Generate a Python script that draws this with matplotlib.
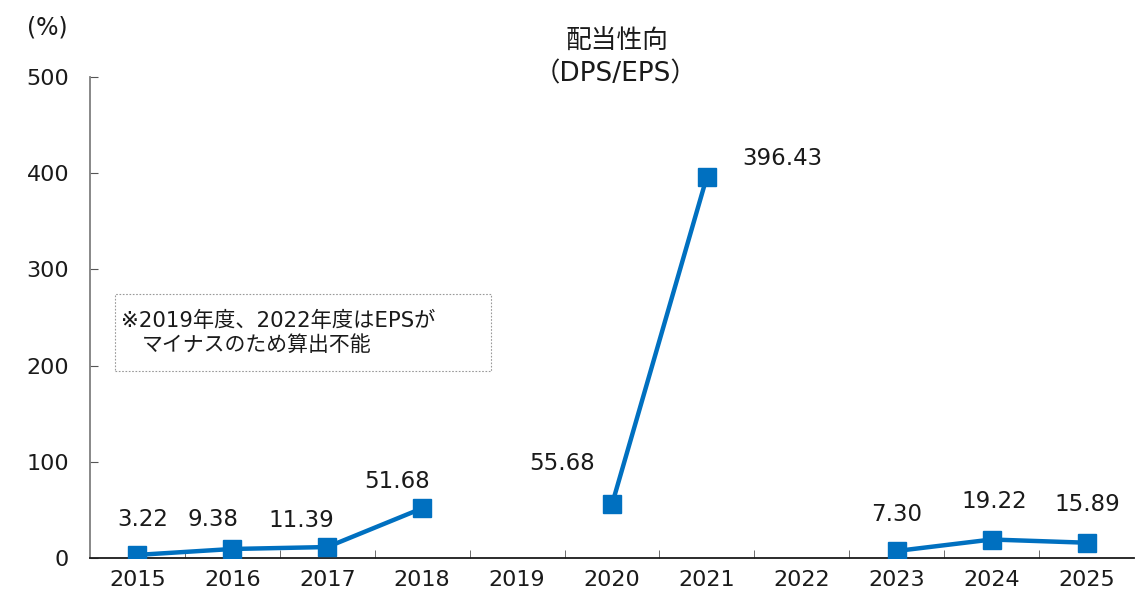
import numpy as np
import matplotlib
matplotlib.use("Agg")
import matplotlib.pyplot as plt
from matplotlib.patches import Rectangle

plt.rcParams['font.family'] = ['DejaVu Sans', 'Noto Sans CJK JP']

years = ["2015", "2016", "2017", "2018", "2019", "2020", "2021", "2022", "2023", "2024", "2025"]
payout = [3.22, 9.38, 11.39, 51.68, np.nan, 55.68, 396.43, np.nan, 7.30, 19.22, 15.89]
label_offsets = [(5, 35), (-19, 29), (-26, 27), (-25, 27), None, (-50, 41), (75, 18), None, (0, 36), (3, 38), (1, 38)]
yticks = [0, 100, 200, 300, 400, 500]
color = "#0070C0"
txt = '#1a1a1a'

fig = plt.figure(figsize=(11.35, 5.93), dpi=100)
ax = fig.add_axes([90/1135, 1 - 558/593, (1134-90)/1135, (558-77)/593])

x = np.arange(len(years))
ax.plot(x, payout, color=color, lw=3.2, marker='s', markersize=13, zorder=3)

for i, (v, off) in enumerate(zip(payout, label_offsets)):
    if np.isnan(v):
        continue
    ax.annotate(f"{v:.2f}", (i, v), xytext=off, textcoords='offset pixels',
                ha='center', va='center', fontsize=16.5, color=txt)

ax.set_xlim(-0.5, len(years) - 0.5)
ax.set_ylim(0, 500)
ax.set_yticks(yticks)
ax.set_yticklabels([str(t) for t in yticks], fontsize=16, color=txt)
ax.set_xticks(x)
ax.set_xticklabels(years, fontsize=16, color=txt)
ax.set_xticks(np.arange(0.5, len(years) - 0.5, 1), minor=True)
ax.tick_params(axis='x', which='major', length=0, pad=9)
ax.tick_params(axis='x', which='minor', direction='in', length=6, color='#555555')
ax.tick_params(axis='y', direction='in', length=6, color='#555555', pad=15)
for s in ['top', 'right']:
    ax.spines[s].set_visible(False)
ax.spines['left'].set_color('#7f7f7f')
ax.spines['left'].set_linewidth(1.3)
ax.spines['bottom'].set_color('#1a1a1a')
ax.spines['bottom'].set_linewidth(1.3)

fig.text(47/1135, 1 - 27/593, "(%)", ha='center', va='center', fontsize=17, color=txt)
fig.text(617/1135, 1 - 41/593, "配当性向", ha='center', va='center', fontsize=18.5, color=txt)
fig.text(616/1135, 1 - 74/593, "（DPS/EPS）", ha='center', va='center', fontsize=19, color=txt)

box = Rectangle((115/1135, 1 - 371/593), (491-115)/1135, (371-294)/593,
                transform=fig.transFigure, fill=False, edgecolor='#999999',
                linestyle=(0, (1.5, 1.5)), linewidth=0.8)
fig.add_artist(box)
fig.text(121/1135, 1 - 321/593, "※2019年度、2022年度はEPSが", ha='left', va='center', fontsize=15.3, color=txt)
fig.text(142/1135, 1 - 345/593, "マイナスのため算出不能", ha='left', va='center', fontsize=15, color=txt)

fig.savefig("out.png", dpi=100)
